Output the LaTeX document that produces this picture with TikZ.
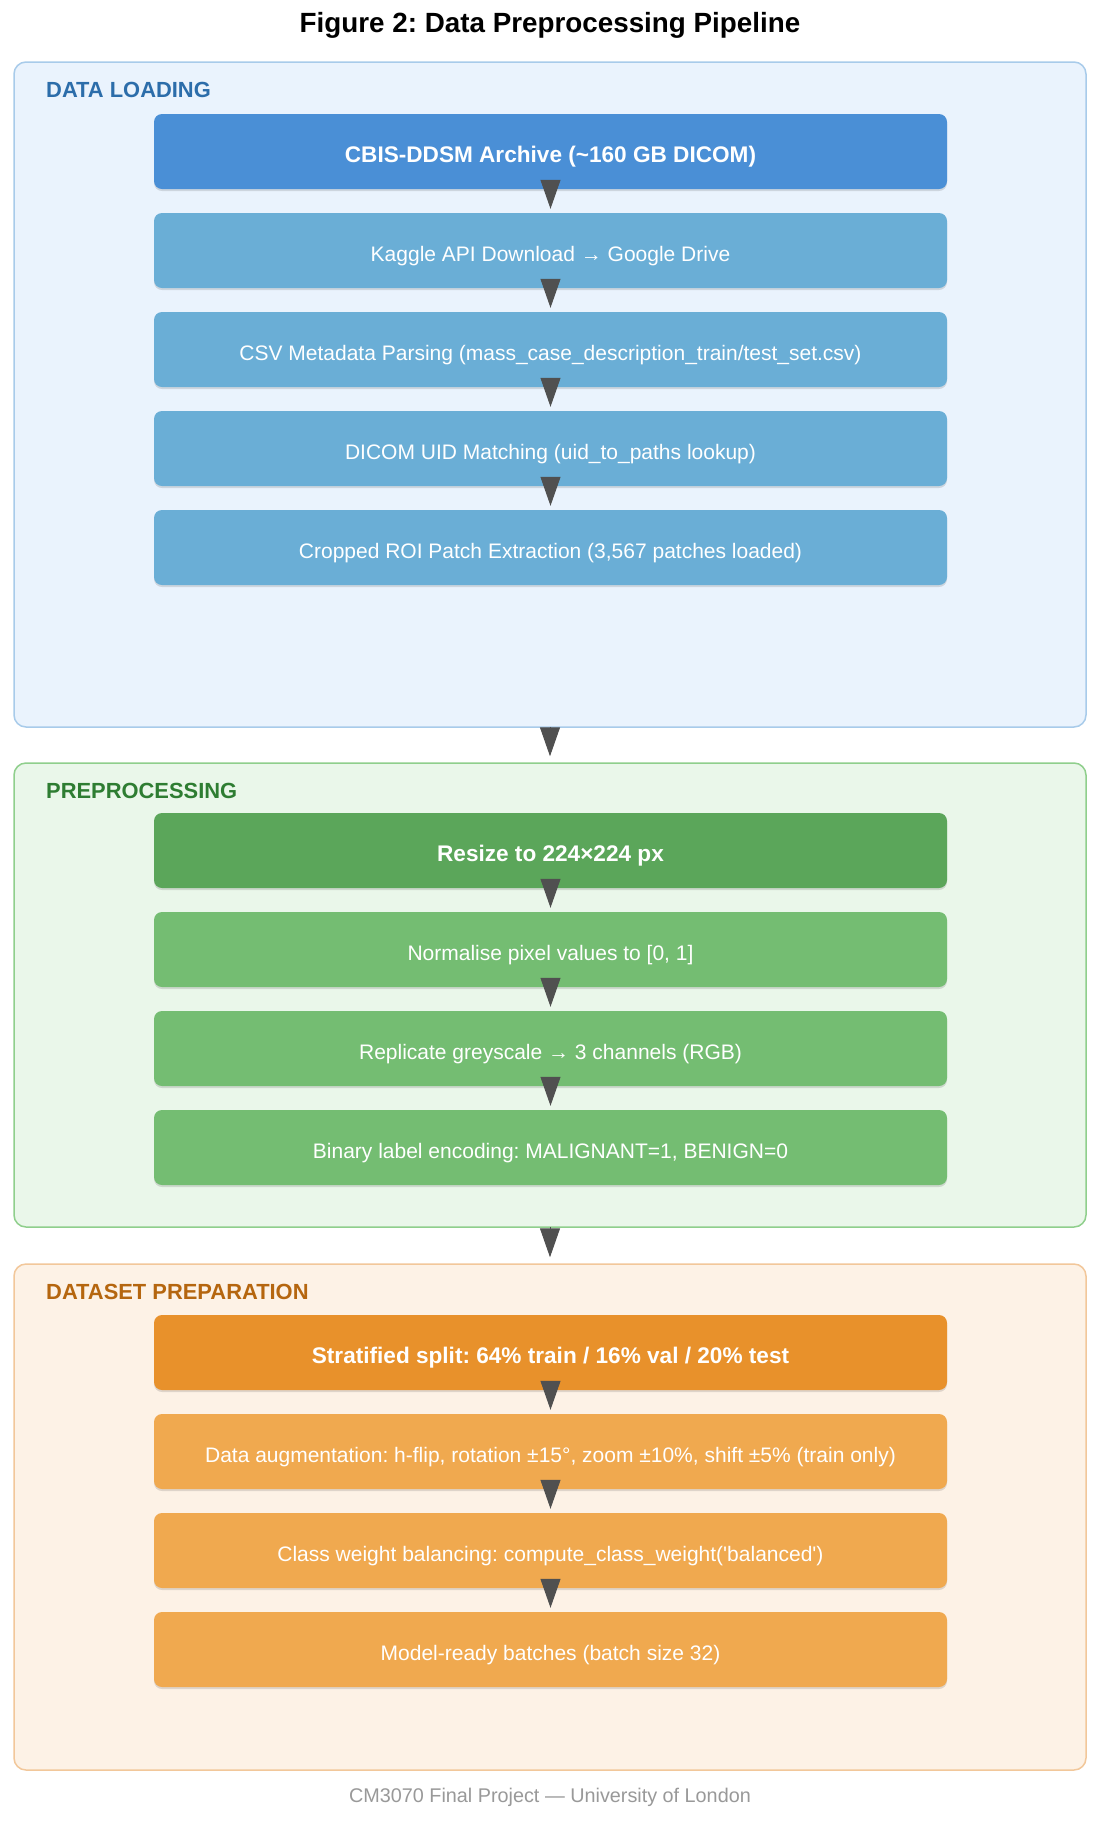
\documentclass[tikz,border=0pt]{standalone}
\usepackage{fontspec}
\setmainfont{Liberation Sans}
\usetikzlibrary{arrows.meta,shadows}
\definecolor{arrowc}{HTML}{505050}
\definecolor{bluefill}{HTML}{EAF3FD}
\definecolor{blueedge}{HTML}{A8CBEA}
\definecolor{bluelab}{HTML}{2C6DAA}
\definecolor{bluehead}{HTML}{4A8FD6}
\definecolor{bluebox}{HTML}{6AAED6}
\definecolor{greenfill}{HTML}{EAF7EA}
\definecolor{greenedge}{HTML}{8FCF8C}
\definecolor{greenlab}{HTML}{2E7D32}
\definecolor{greenhead}{HTML}{5BA65A}
\definecolor{greenbox}{HTML}{74BD72}
\definecolor{orangefill}{HTML}{FDF2E6}
\definecolor{orangeedge}{HTML}{F2C79A}
\definecolor{orangelab}{HTML}{B5660F}
\definecolor{orangehead}{HTML}{E8912B}
\definecolor{orangebox}{HTML}{F0A94F}
\definecolor{footc}{HTML}{999999}
\frenchspacing
\begin{document}
\begin{tikzpicture}[x=1pt,y=-1pt,
  panel/.style={draw, line width=1.5pt, rounded corners=12pt, minimum width=1072pt, inner sep=0pt},
  stepbox/.style={rounded corners=8pt, minimum width=793pt, minimum height=75pt, inner sep=0pt,
    text=white, font=\fontsize{21}{25}\selectfont, text height=21pt, text depth=0pt,
    drop shadow={shadow xshift=0pt, shadow yshift=-2pt, opacity=0.12, fill=black}},
  headbox/.style={stepbox, font=\bfseries\fontsize{22.6}{27}\selectfont, text height=22.5pt},
  plabel/.style={anchor=west, inner sep=0pt, font=\bfseries\fontsize{21.9}{26}\selectfont},
  flow/.style={draw=arrowc, line width=1pt, -{Triangle[length=29pt,width=20pt]}, arrowc, shorten >=4pt}
]
\useasboundingbox (0,0) rectangle (1100,1821);
\fill[white] (0,0) rectangle (1100,1821);

\node[font=\bfseries\fontsize{27.8}{33}\selectfont] (title) at (550,25) {Figure 2: Data Preprocessing Pipeline};

% Panels
\node[panel, fill=bluefill, draw=blueedge, minimum height=665pt] (p1) at (550,394.5) {};
\node[panel, fill=greenfill, draw=greenedge, minimum height=464pt] (p2) at (550,995) {};
\node[panel, fill=orangefill, draw=orangeedge, minimum height=506pt] (p3) at (550,1517) {};

\node[plabel, text=bluelab] (l1) at (46,90) {DATA LOADING};
\node[plabel, text=greenlab] (l2) at (46,791) {PREPROCESSING};
\node[plabel, text=orangelab] (l3) at (46,1292) {DATASET PREPARATION};

% Data loading
\node[headbox, fill=bluehead] (a1) at (550.5,151.5) {CBIS-DDSM Archive (\textasciitilde160 GB DICOM)};
\node[stepbox, fill=bluebox] (a2) at (550.5,250.5) {Kaggle API Download → Google Drive};
\node[stepbox, fill=bluebox] (a3) at (550.5,349.5) {CSV Metadata Parsing (mass\_case\_description\_train/test\_set.csv)};
\node[stepbox, fill=bluebox] (a4) at (550.5,448.5) {DICOM UID Matching (uid\_to\_paths lookup)};
\node[stepbox, fill=bluebox] (a5) at (550.5,547.5) {Cropped ROI Patch Extraction (3,567 patches loaded)};

% Preprocessing
\node[headbox, fill=greenhead] (b1) at (550.5,850.5) {Resize to 224×224 px};
\node[stepbox, fill=greenbox] (b2) at (550.5,949.5) {Normalise pixel values to [0, 1]};
\node[stepbox, fill=greenbox] (b3) at (550.5,1048.5) {Replicate greyscale → 3 channels (RGB)};
\node[stepbox, fill=greenbox] (b4) at (550.5,1147.5) {Binary label encoding: MALIGNANT=1, BENIGN=0};

% Dataset preparation
\node[headbox, fill=orangehead] (c1) at (550.5,1352.5) {Stratified split: 64\% train / 16\% val / 20\% test};
\node[stepbox, fill=orangebox] (c2) at (550.5,1451.5) {Data augmentation: h-flip, rotation ±15°, zoom ±10\%, shift ±5\% (train only)};
\node[stepbox, fill=orangebox] (c3) at (550.5,1550.5) {Class weight balancing: compute\_class\_weight(\textquotesingle balanced\textquotesingle)};
\node[stepbox, fill=orangebox] (c4) at (550.5,1649.5) {Model-ready batches (batch size 32)};

% Arrows within panels
\foreach \u/\v in {a1/a2,a2/a3,a3/a4,a4/a5,b1/b2,b2/b3,b3/b4,c1/c2,c2/c3,c3/c4}
  \draw[flow] ([yshift=9pt]\u.south) -- (\v.north);

% Arrows between panels
\draw[flow, shorten >=6pt] ([yshift=1pt]p1.south) -- (p2.north);
\draw[flow, shorten >=6pt] ([yshift=1pt]p2.south) -- (p3.north);

\node[text=footc, font=\fontsize{19.8}{24}\selectfont] (foot) at (550,1797) {CM3070 Final Project — University of London};
\end{tikzpicture}
\end{document}
